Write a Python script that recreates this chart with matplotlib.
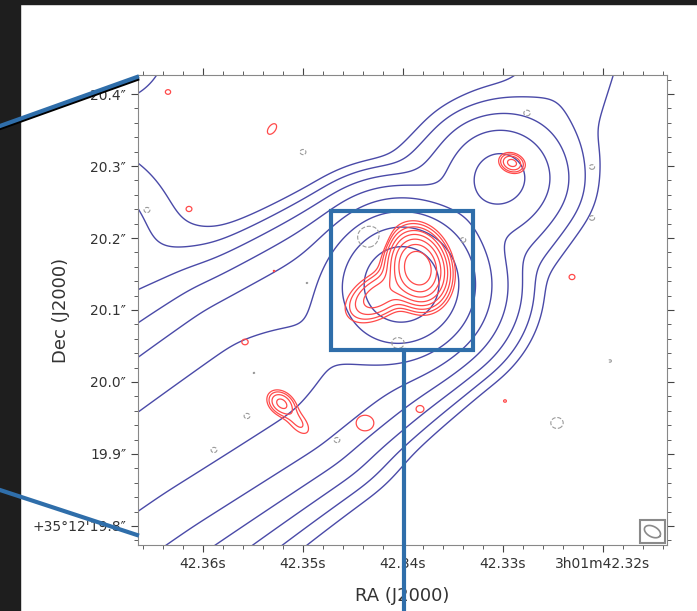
import numpy as np
import matplotlib.pyplot as plt
from matplotlib.lines import Line2D
from matplotlib.patches import Rectangle

COSD = np.cos(np.radians(35.2))
RA_REF = 42.34     # seconds of 3h01m
DEC_REF = 20.1     # arcsec of +35d12'

# low resolution image (blue)
# ridge of the jet / plume: ra [s], dec ["], brightness, half width [mas], profile power
ridge_ra = [42.3763, 42.3666, 42.3543, 42.3403, 42.3348, 42.3303, 42.3253, 42.3213]
ridge_dec = [19.7944, 19.8875, 20.0028, 20.1333, 20.2083, 20.2833, 20.3778, 20.475]
ridge_amp = [40, 40, 38, 24, 7, 9, 2.0, 1.5]
ridge_w = [116, 116, 124, 124, 100, 86, 74, 65]
ridge_p = [2, 2, 2.5, 3.5, 3, 2.5, 2, 2]
# compact parts: core, NW knot, W lobe, NE corner
blob_ra = [42.3401, 42.3303, 42.3723, 42.3688]
blob_dec = [20.1361, 20.2833, 20.1972, 20.468]
blob_peak = [200, 12, 3.6, 2.8]
blob_sra = [40, 34, 74, 43]     # sigma along ra [mas]
blob_sdec = [46, 39, 83, 49]    # sigma along dec [mas]
beam_low = 15                   # smoothing of the low resolution map [mas]
blue_levels = [1, 2, 4, 8, 16, 32, 64, 128]

# high resolution image (red = positive, grey dashed = negative)
red_ra = [42.3385, 42.3425, 42.3291, 42.3522, 42.3505, 42.3438, 42.3383, 42.3298,
          42.3231, 42.3635, 42.3531, 42.3614, 42.3529, 42.3558]
red_dec = [20.1583, 20.1194, 20.3042, 19.9708, 19.9444, 19.943, 19.9625, 19.9736,
           20.1458, 20.4028, 20.3514, 20.2403, 20.1542, 20.0556]
red_peak = [1.0, 0.15, 0.13, 0.12, 0.05, 0.045, 0.036, 0.032,
            0.035, 0.034, 0.045, 0.035, 0.031, 0.036]
red_smaj = [25, 26, 10, 12, 18, 12, 8, 5, 6.5, 6.5, 9, 6.5, 4, 6.5]
red_smin = [17, 16, 8, 9, 9, 12, 8, 5, 6.5, 6.5, 5, 6.5, 4, 6.5]
red_pa = [100, 40, -30, -50, -55, 0, 0, 0, 0, 0, 60, 0, 0, 0]
red_levels = [0.03, 0.045, 0.07, 0.11, 0.17, 0.27, 0.42, 0.65]

neg_ra = [42.35, 42.3656, 42.3433, 42.334, 42.3276, 42.3211, 42.3211, 42.3405,
          42.3476, 42.3193, 42.3246, 42.3466, 42.3556, 42.3589, 42.3549, 42.3496]
neg_dec = [20.3194, 20.2389, 20.2014, 20.1972, 20.3736, 20.2986, 20.2278, 20.0542,
           20.0903, 20.0292, 19.9431, 19.9194, 19.9528, 19.9056, 20.0125, 20.1375]
neg_peak = [-0.035, -0.035, -0.05, -0.035, -0.036, -0.034, -0.034, -0.04,
            -0.032, -0.032, -0.04, -0.035, -0.035, -0.035, -0.031, -0.031]
neg_size = [6.5, 6.5, 15, 6.5, 6.5, 6.5, 6.5, 10, 5, 5, 10, 6.5, 6.5, 6.5, 4, 4]
neg_levels = [-0.03]

# restoring beam of the high resolution image [mas]
beam_maj, beam_min, beam_pa = 11, 7, -35

ra_grid = np.linspace(42.305, 42.375, 860)
dec_grid = np.linspace(19.70, 20.50, 800)
RA, DEC = np.meshgrid(ra_grid, dec_grid)
U = (RA_REF - RA) * 15 * COSD * 1000
V = (DEC - DEC_REF) * 1000
du_pt = abs(U[0, 1] - U[0, 0])
dv_pt = abs(V[1, 0] - V[0, 0])


def to_uv(r, d):
    return (RA_REF - r) * 15 * COSD * 1000, (d - DEC_REF) * 1000


def field(ras, decs, peaks, smaj, smin, pas):
    f = np.zeros_like(U)
    for r0, d0, a, sa, sb, t in zip(ras, decs, peaks, smaj, smin, pas):
        u0, v0 = to_uv(r0, d0)
        c, s = np.cos(np.radians(t)), np.sin(np.radians(t))
        x = (U - u0) * c + (V - v0) * s
        y = -(U - u0) * s + (V - v0) * c
        f += a * np.exp(-0.5 * ((x / sa) ** 2 + (y / sb) ** 2))
    return f


def ridge_field(ras, decs, amps, widths, powers):
    nu, nv = to_uv(np.array(ras), np.array(decs))
    f = np.zeros_like(U)
    for i in range(len(ras) - 1):
        ex, ey = nu[i + 1] - nu[i], nv[i + 1] - nv[i]
        t = np.clip(((U - nu[i]) * ex + (V - nv[i]) * ey) / (ex * ex + ey * ey), 0, 1)
        d = np.hypot(U - nu[i] - t * ex, V - nv[i] - t * ey)
        a = amps[i] + t * (amps[i + 1] - amps[i])
        w = widths[i] + t * (widths[i + 1] - widths[i])
        p = powers[i] + t * (powers[i + 1] - powers[i])
        f = np.maximum(f, a * np.exp(-(d / w) ** p))
    return f


def smooth(f, sig):
    def kern(s):
        n = int(3 * s) + 1
        x = np.arange(-n, n + 1)
        g = np.exp(-0.5 * (x / s) ** 2)
        return g / g.sum()
    for axis, step in ((1, du_pt), (0, dv_pt)):
        k = kern(sig / step)
        m = len(k) // 2
        f = np.apply_along_axis(
            lambda r: np.convolve(np.pad(r, m, mode='edge'), k, mode='valid'), axis, f)
    return f


low = smooth(ridge_field(ridge_ra, ridge_dec, ridge_amp, ridge_w, ridge_p), beam_low)
low += field(blob_ra, blob_dec, blob_peak, blob_sra, blob_sdec, [0] * len(blob_ra))
high = field(red_ra, red_dec, red_peak, red_smaj, red_smin, red_pa)
high += field(neg_ra, neg_dec, neg_peak, neg_size, neg_size, [0] * len(neg_ra))

fig = plt.figure(figsize=(6.97, 6.11), dpi=100)
ax = fig.add_axes([138 / 697, 1 - 545 / 611, 529 / 697, 470 / 611])

ax.contour(RA, DEC, low, levels=blue_levels, colors='#4a4aa8', linewidths=1.0)
ax.contour(RA, DEC, high, levels=red_levels, colors='#ff4a4a', linewidths=0.9)
ax.contour(RA, DEC, high, levels=neg_levels, colors='#9a9a9a', linewidths=0.8,
           linestyles='dashed')

ax.set_xlim(42.3665, 42.3136)
ax.set_ylim(19.7736, 20.4264)

xt = [42.36, 42.35, 42.34, 42.33, 42.32]
xl = ['42.36s', '42.35s', '42.34s', '42.33s', '3h01m42.32s']
yt = [19.8, 19.9, 20.0, 20.1, 20.2, 20.3, 20.4]
yl = ["+35°12'19.8\u2033", '19.9\u2033', '20.0\u2033', '20.1\u2033',
      '20.2\u2033', '20.3\u2033', '20.4\u2033']
ax.set_xticks(xt, xl)
ax.set_yticks(yt, yl)
ax.set_xticks(np.arange(42.314, 42.367, 0.002), minor=True)
ax.set_yticks(np.arange(19.78, 20.43, 0.02), minor=True)
ax.tick_params(which='both', direction='out', top=True, right=True,
               color='#444444', labelsize=10, labelcolor='#333333')
ax.tick_params(which='major', length=5)
ax.tick_params(which='minor', length=3)
for sp in ax.spines.values():
    sp.set_color('#888888')

ax.set_xlabel('RA (J2000)', fontsize=13, color='#333333', labelpad=12)
ax.set_ylabel('Dec (J2000)', fontsize=13, color='#333333')
ax.yaxis.set_label_coords(-0.128, 0.5)

# beam in the lower right corner
ax.add_patch(Rectangle((0.949, 0.004), 0.047, 0.049, transform=ax.transAxes,
                       fill=False, ec='#8a8a8a', lw=1.5))
bx = ax.transAxes.transform((0.9725, 0.0285))
bc = ax.transData.inverted().transform(bx)
t = np.linspace(0, 2 * np.pi, 100)
c, s = np.cos(np.radians(beam_pa)), np.sin(np.radians(beam_pa))
eu = beam_maj * np.cos(t) * c - beam_min * np.sin(t) * s
ev = beam_maj * np.cos(t) * s + beam_min * np.sin(t) * c
ax.plot(bc[0] - eu / (15 * COSD * 1000), bc[1] + ev / 1000, color='#8a8a8a', lw=1.2)

# slide overlay: zoom box and connector lines
BLUE = '#2f6eaa'
ax.add_patch(Rectangle((42.3472, 20.0444), 42.333 - 42.3472, 20.2375 - 20.0444,
                       fill=False, ec=BLUE, lw=3, zorder=10, clip_on=False))


def fx(x):
    return x / 697


def fy(y):
    return 1 - y / 611


fig.add_artist(Rectangle((0, 0), fx(20), 1, transform=fig.transFigure,
                         color='#1e1e1e', zorder=0))
fig.add_artist(Rectangle((0, fy(4)), 1, 1, transform=fig.transFigure,
                         color='#1e1e1e', zorder=0))
fig.add_artist(Line2D([fx(0), fx(137)], [fy(128), fy(79)], color='black', lw=3))
fig.add_artist(Line2D([fx(0), fx(137)], [fy(126), fy(77)], color=BLUE, lw=3))
fig.add_artist(Line2D([fx(0), fx(137)], [fy(490), fy(535)], color=BLUE, lw=3))
fig.add_artist(Line2D([fx(404), fx(404)], [fy(350), fy(611)], color=BLUE, lw=3))

fig.savefig('out.png', dpi=100)
